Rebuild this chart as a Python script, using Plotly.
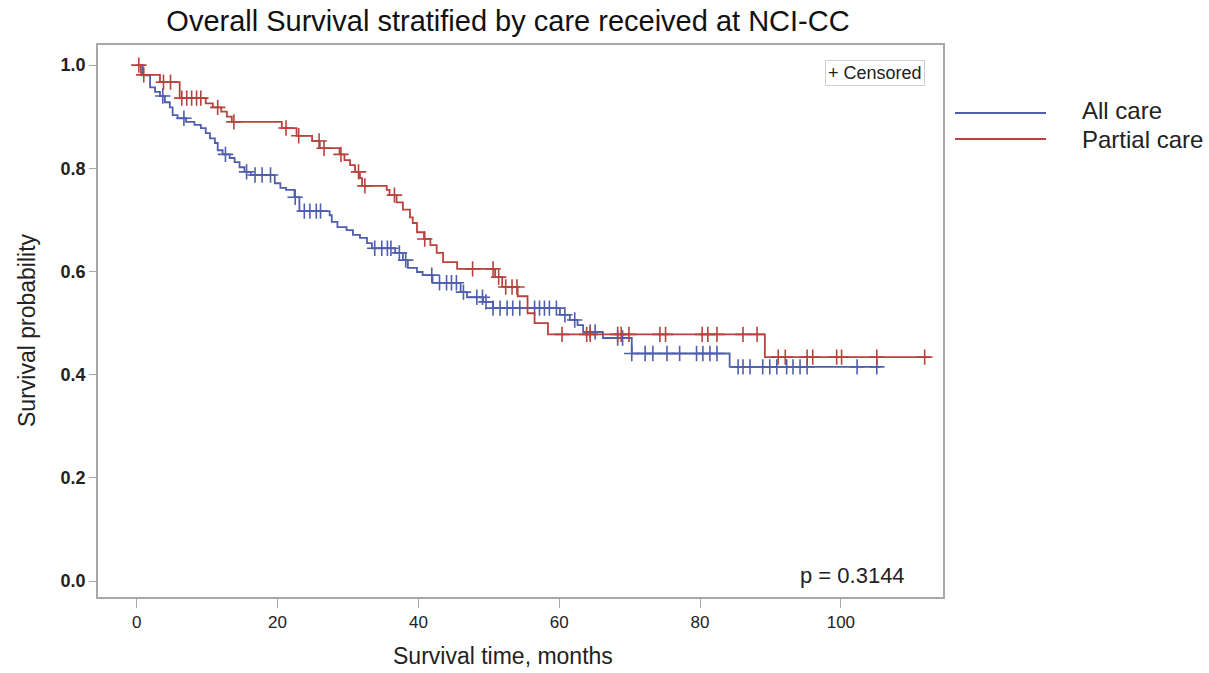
import numpy as np
import plotly.graph_objects as go

# ---------------- data ----------------
all_event_t = [0.85, 1.9, 2.6, 3.3, 4.0, 4.7, 5.1, 5.8, 7.0, 8.2, 9.1, 9.8, 10.4, 11.1, 11.5, 12.2,
               13.2, 13.9, 14.6, 15.3, 16.2, 19.6, 20.4, 21.2, 22.4, 23.1, 27.4, 27.7, 28.5, 29.8,
               30.7, 31.7, 32.7, 33.4, 36.7, 37.8, 38.5, 39.8, 40.6, 42.0, 46.0, 46.9, 49.2, 50.6,
               60.1, 61.5, 62.6, 63.4, 66.2, 70.3, 84.2]
all_event_s = [0.980, 0.957, 0.948, 0.940, 0.928, 0.918, 0.903, 0.897, 0.890, 0.884, 0.878, 0.868,
               0.858, 0.849, 0.835, 0.827, 0.820, 0.812, 0.802, 0.793, 0.787, 0.771, 0.762, 0.758,
               0.744, 0.717, 0.709, 0.696, 0.686, 0.680, 0.671, 0.665, 0.655, 0.645, 0.636, 0.622,
               0.607, 0.599, 0.593, 0.578, 0.560, 0.550, 0.541, 0.529, 0.516, 0.506, 0.496, 0.483,
               0.471, 0.441, 0.415]
all_censor_t = [3.7, 6.7, 12.6, 15.6, 16.8, 17.8, 19.0, 22.5, 23.8, 24.6, 25.5, 26.1, 33.8, 34.8,
                35.6, 36.1, 37.3, 38.2, 41.9, 43.0, 44.0, 44.7, 45.4, 46.4, 48.3, 49.1, 49.6, 50.6,
                51.6, 52.6, 53.4, 54.4, 56.5, 57.2, 57.9, 58.6, 59.6, 60.8, 62.2, 64.4, 65.1, 68.3,
                69.0, 70.3, 72.2, 73.3, 75.3, 77.1, 79.5, 80.4, 81.4, 82.4, 85.4, 86.1, 87.1, 88.9,
                89.9, 90.9, 92.3, 93.2, 94.2, 95.2, 102.3, 105.1]
all_end_t = 105.6

partial_event_t = [0.6, 3.3, 6.1, 9.8, 10.8, 12.0, 12.8, 13.5, 20.6, 22.7, 24.9, 26.0, 28.8, 29.5,
                   30.3, 31.0, 31.7, 32.0, 35.5, 35.9, 36.9, 37.8, 38.8, 39.2, 39.8, 40.8, 41.7,
                   42.6, 43.5, 45.5, 50.9, 51.9, 54.1, 55.5, 56.5, 58.4, 89.2]
partial_event_s = [0.981, 0.967, 0.936, 0.926, 0.918, 0.910, 0.900, 0.890, 0.878, 0.863, 0.853,
                   0.839, 0.827, 0.816, 0.806, 0.793, 0.781, 0.766, 0.758, 0.748, 0.734, 0.720,
                   0.705, 0.694, 0.676, 0.663, 0.651, 0.636, 0.618, 0.605, 0.589, 0.570, 0.552,
                   0.519, 0.500, 0.478, 0.434]
partial_censor_t = [0.3, 1.0, 3.8, 4.8, 6.4, 7.1, 7.8, 8.5, 9.1, 11.5, 13.8, 21.2, 23.0, 25.9, 26.6,
                    29.0, 31.5, 32.4, 36.6, 40.9, 47.7, 50.6, 51.4, 52.4, 53.3, 54.0, 60.4, 63.9,
                    64.4, 68.3, 68.8, 69.9, 74.3, 75.1, 80.3, 81.1, 82.4, 86.1, 88.1, 91.1, 92.1,
                    95.2, 96.0, 99.4, 100.1, 105.1, 111.9]
partial_end_t = 112.6

x_ticks = [0, 20, 40, 60, 80, 100]
y_ticks = [0.0, 0.2, 0.4, 0.6, 0.8, 1.0]

BLUE = "#4f5fae"
RED = "#b8423c"


def step_curve(ev_t, ev_s, end_t):
    t = [0.0] + list(ev_t) + [end_t]
    s = [1.0] + list(ev_s) + [ev_s[-1]]
    return t, s


def surv_at(ev_t, ev_s, times):
    ev_t = np.asarray(ev_t)
    ev_s = np.concatenate([[1.0], np.asarray(ev_s)])
    idx = np.searchsorted(ev_t, np.asarray(times), side="right")
    return ev_s[idx]


fig = go.Figure()
for name, et, es, ct, end, col in [
    ("All care", all_event_t, all_event_s, all_censor_t, all_end_t, BLUE),
    ("Partial care", partial_event_t, partial_event_s, partial_censor_t, partial_end_t, RED),
]:
    t, s = step_curve(et, es, end)
    fig.add_trace(go.Scatter(x=t, y=s, mode="lines", line=dict(color=col, width=1.8, shape="hv"),
                             name=name, showlegend=False, hoverinfo="skip"))
    fig.add_trace(go.Scatter(x=ct, y=surv_at(et, es, ct), mode="markers",
                             marker=dict(symbol="cross-thin-open", size=11, color=col,
                                         line=dict(color=col, width=1.6)),
                             showlegend=False, hoverinfo="skip"))

L, R, T, B = 98, 943, 45, 597
W, H = 1209, 673
pw, ph = R - L, B - T


def px(xp):
    return (xp - L) / pw


def py(yp):
    return (B - yp) / ph


fig.update_layout(
    width=W, height=H,
    margin=dict(l=L, r=W - R, t=T, b=H - B),
    paper_bgcolor="white", plot_bgcolor="white",
    font=dict(family="Liberation Sans, Arial, sans-serif", color="#222"),
    title=dict(text="Overall Survival stratified by care received at NCI-CC",
               x=508 / W, xanchor="center", y=1 - 21 / H, yanchor="middle",
               font=dict(size=29, color="#111")),
    showlegend=False,
)
fig.update_xaxes(range=[-5.5, 114.5], tickvals=x_ticks, ticktext=[str(v) for v in x_ticks],
                 showgrid=False, zeroline=False, showline=True, mirror=True,
                 linecolor="#a8a8a8", linewidth=1.5, ticks="outside", ticklen=9,
                 tickcolor="#a8a8a8", tickfont=dict(size=17, color="#222"))
fig.update_yaxes(range=[-0.031, 1.039], tickvals=y_ticks, ticktext=[f"{v:.1f}" for v in y_ticks],
                 showgrid=False, zeroline=False, showline=True, mirror=True,
                 linecolor="#a8a8a8", linewidth=1.5, ticks="outside", ticklen=7,
                 tickcolor="#a8a8a8", tickfont=dict(size=18, color="#222", weight="bold"))

ann = [
    dict(text="Survival probability", x=px(27), y=py(330), textangle=-90, font=dict(size=23)),
    dict(text="Survival time, months", x=px(503), y=py(656), font=dict(size=23)),
    dict(text="p = 0.3144", x=px(852), y=py(575), font=dict(size=22)),
    dict(text="+ Censored", x=px(875), y=py(73), font=dict(size=18),
         bordercolor="#cfcfcf", borderwidth=1, borderpad=2, bgcolor="white"),
    dict(text="All care", x=px(1080), y=py(111), xanchor="left", font=dict(size=24)),
    dict(text="Partial care", x=px(1080), y=py(139), xanchor="left", font=dict(size=24)),
]
for a in ann:
    a.setdefault("xanchor", "center")
    fig.add_annotation(xref="paper", yref="paper", yanchor="middle", showarrow=False, **a)

fig.add_shape(type="line", xref="paper", yref="paper", x0=px(955), x1=px(1046),
              y0=py(113), y1=py(113), line=dict(color=BLUE, width=2))
fig.add_shape(type="line", xref="paper", yref="paper", x0=px(955), x1=px(1046),
              y0=py(139), y1=py(139), line=dict(color=RED, width=2))

fig.write_html("out.html")
